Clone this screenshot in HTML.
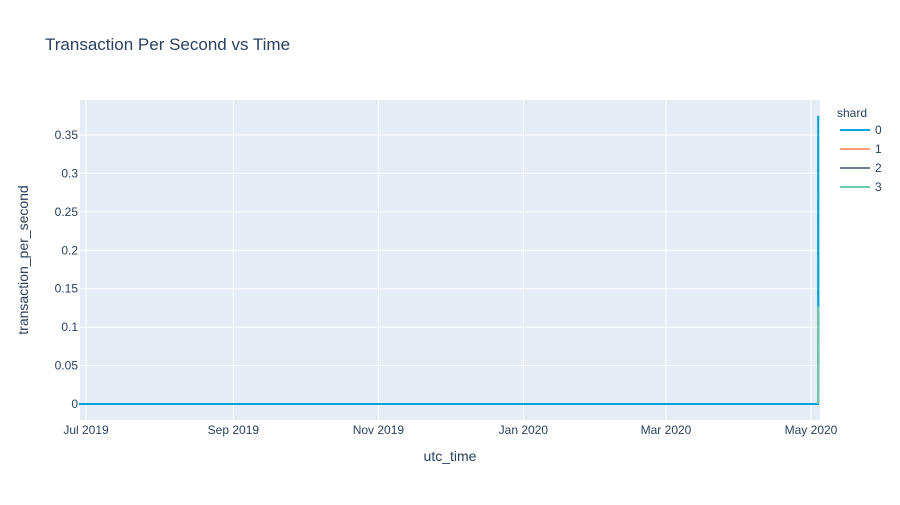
<!DOCTYPE html>
<html><head><meta charset="utf-8"><style>
body{margin:0;background:#fff;font-family:"Liberation Sans","DejaVu Sans",sans-serif}
text{font-family:"Liberation Sans","DejaVu Sans",sans-serif;fill:#2a3f5f}
</style></head><body>
<svg id="chart" width="900" height="500">
<rect width="900" height="500" fill="#fff"/>
<text x="45" y="50" font-size="17">Transaction Per Second vs Time</text>
<rect x="80" y="100" width="740" height="320" fill="#e5ecf6"/>
<g id="grid"></g><g id="series"></g><g id="axes"></g>
<text x="450" y="461" font-size="14" text-anchor="middle">utc_time</text>
<text transform="translate(28,260) rotate(-90)" font-size="14" text-anchor="middle">transaction_per_second</text>
<text x="837" y="117" font-size="12">shard</text>
<g id="legend"></g>
</svg>
<script>
const shardNames = ["0","1","2","3"];
const shardColors = ["#00a3e0","#ffa07a","#708090","#66cdaa"];
const times0 = ["2019-06-28","2020-05-04T00:00","2020-05-04T01:00","2020-05-04T02:00"];
const values0 = [0,0,0.375,0.127];
const times1 = ["2020-05-04T00:00","2020-05-04T02:00"];
const values1 = [0,0.12];
const times2 = ["2020-05-04T00:00","2020-05-04T02:00"];
const values2 = [0,0.12];
const times3 = ["2020-05-04T00:00","2020-05-04T02:00"];
const values3 = [0,0.127];
const yTicks = [0,0.05,0.1,0.15,0.2,0.25,0.3,0.35];
const yTickLabels = ["0","0.05","0.1","0.15","0.2","0.25","0.3","0.35"];
const xTicks = ["2019-07-01","2019-09-01","2019-11-01","2020-01-01","2020-03-01","2020-05-01"];
const xTickLabels = ["Jul 2019","Sep 2019","Nov 2019","Jan 2020","Mar 2020","May 2020"];

const NS="http://www.w3.org/2000/svg";
const t0=Date.parse("2019-07-01T00:00Z"), t1=Date.parse("2020-05-01T00:00Z");
function xs(d){const t=Date.parse(d.length<=10?d+"T00:00Z":d+"Z");return 86+(t-t0)/(t1-t0)*725;}
function ys(v){return 404-v/0.35*269;}
function mk(tag,attrs,parent){const e=document.createElementNS(NS,tag);for(const k in attrs)e.setAttribute(k,attrs[k]);parent.appendChild(e);return e;}
const grid=document.getElementById("grid"),axes=document.getElementById("axes");
yTicks.forEach((v,i)=>{
  const l=mk("line",{x1:80,x2:820,y1:ys(v),y2:ys(v),stroke:"#fff","stroke-width":1},grid);
  
  
  const t=mk("text",{x:78,y:ys(v)+4,"font-size":12,"text-anchor":"end"},axes);
  t.textContent=yTickLabels[i];
  
  
});
xTicks.forEach((d,i)=>{
  const l=mk("line",{x1:xs(d),x2:xs(d),y1:100,y2:420,stroke:"#fff","stroke-width":1},grid);
  
  
  const t=mk("text",{x:xs(d),y:434,"font-size":12,"text-anchor":"middle"},axes);
  t.textContent=xTickLabels[i];
  
  
});
const sg=document.getElementById("series");
const allT=[times0,times1,times2,times3], allV=[values0,values1,values2,values3];
[0,1,2,3].forEach(s=>{
  const pts=allT[s].map((d,i)=>xs(d).toFixed(1)+","+ys(allV[s][i]).toFixed(1)).join(" ");
  const p=mk("polyline",{points:pts,fill:"none",stroke:shardColors[s],"stroke-width":2},sg);
  
  
});
const lg=document.getElementById("legend");
shardNames.forEach((n,i)=>{
  const y=130+i*19;
  const g=mk("g",{},lg);
  
  
  mk("line",{x1:840,x2:870,y1:y,y2:y,stroke:shardColors[i],"stroke-width":2},g);
  const t=mk("text",{x:875,y:y+4,"font-size":12},g);
  t.textContent=n;
});
</script>
</body></html>
